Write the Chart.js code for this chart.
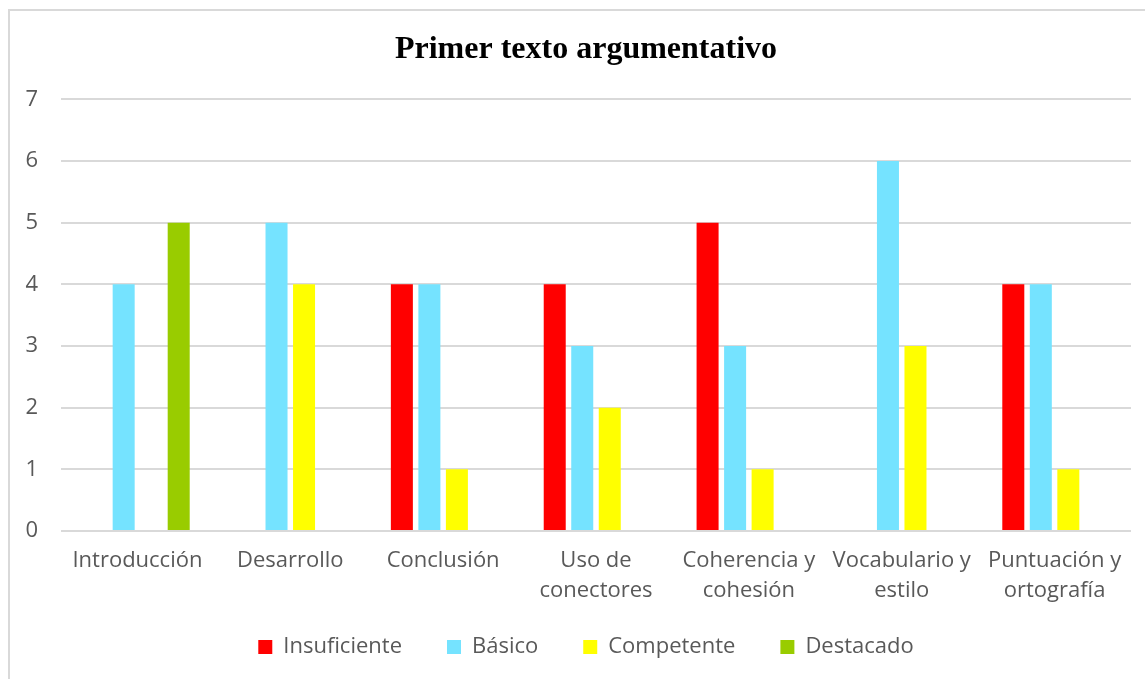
<!DOCTYPE html>
<html>
<head>
<meta charset="utf-8">
<script src="https://cdn.jsdelivr.net/npm/chart.js"></script>
<style>
  html, body { margin: 0; padding: 0; background: #fff; overflow: hidden; }
  #frame {
    position: absolute; left: 8px; top: 9px;
    width: 1152px; height: 680px;
    border: 2px solid #d9d9d9;
    background: #fff;
  }
  #frame canvas { display: block; }
</style>
</head>
<body>
<div id="frame"><canvas id="chart" width="1152" height="668"></canvas></div>
<script>
// Datos
const categories = [
  'Introducción', 'Desarrollo', 'Conclusión',
  ['Uso de', 'conectores'], ['Coherencia y', 'cohesión'],
  ['Vocabulario y', 'estilo'], ['Puntuación y', 'ortografía'],
];
const insuficiente = [0, 0, 4, 4, 5, 0, 4];
const basico       = [4, 5, 4, 3, 3, 6, 4];
const competente   = [0, 4, 1, 2, 1, 3, 1];
const destacado    = [5, 0, 0, 0, 0, 0, 0];
const yTicks = [0, 1, 2, 3, 4, 5, 6, 7];

const textColor = '#595959';
const gridColor = '#d9d9d9';
const sans = "'Open Sans', 'Liberation Sans', sans-serif";

const series = [
  { label: 'Insuficiente', data: insuficiente, color: '#ff0000' },
  { label: 'Básico', data: basico, color: '#75e3ff' },
  { label: 'Competente', data: competente, color: '#ffff00' },
  { label: 'Destacado', data: destacado, color: '#99cc00' },
];

new Chart(document.getElementById('chart'), {
  type: 'bar',
  data: {
    labels: categories,
    datasets: series.map(s => ({
      label: s.label,
      data: s.data,
      backgroundColor: s.color,
      borderWidth: 0,
      categoryPercentage: 0.72,
      barPercentage: 0.8,
    })),
  },
  options: {
    responsive: false,
    animation: false,
    layout: { padding: { left: 0, right: 0, top: 0, bottom: 11 } },
    plugins: {
      title: {
        display: true,
        text: 'Primer texto argumentativo',
        color: '#000',
        font: { family: "'Liberation Serif', 'Times New Roman', serif", size: 32, weight: 'bold' },
        padding: { top: 20, bottom: 30 },
      },
      legend: {
        position: 'bottom',
        labels: {
          color: textColor,
          font: { family: sans, size: 22 },
          boxWidth: 14,
          boxHeight: 14,
          padding: 45,
        },
      },
      tooltip: { enabled: false },
    },
    scales: {
      x: {
        afterFit: scale => {
          scale.height = 60;
          // las etiquetas de dos líneas sobresalen de la caja del eje
          scale._computeLabelArea = () => undefined;
        },
        grid: { display: false, drawTicks: false },
        border: { display: false },
        ticks: {
          color: textColor,
          font: { family: sans, size: 22, lineHeight: 1.364 },
          padding: 15,
          maxRotation: 0,
          autoSkip: false,
        },
      },
      y: {
        min: 0,
        max: 7,
        afterFit: scale => { scale.width = 51; },
        afterBuildTicks: scale => { scale.ticks = yTicks.map(v => ({ value: v })); },
        grid: { color: gridColor, lineWidth: 2, drawTicks: false },
        border: { display: false },
        ticks: {
          color: textColor,
          font: { family: sans, size: 22 },
          padding: 23,
        },
      },
      // espacio vacío a la derecha del área de trazado
      yRight: {
        position: 'right',
        min: 0,
        max: 7,
        afterFit: scale => { scale.width = 31; },
        grid: { display: false, drawTicks: false },
        border: { display: false },
        ticks: { display: false },
      },
    },
  },
});
</script>
</body>
</html>
